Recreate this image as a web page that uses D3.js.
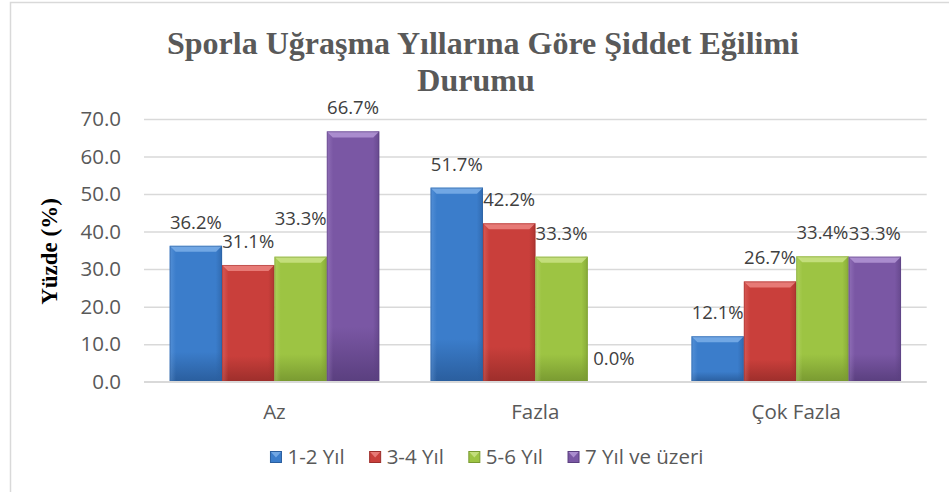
<!DOCTYPE html>
<html>
<head>
<meta charset="utf-8">
<script src="https://cdn.jsdelivr.net/npm/d3@7"></script>
<style>
  body { margin: 0; background: #fff; }
  svg { display: block; }
</style>
</head>
<body>
<svg id="chart" width="949" height="492"></svg>
<script>
// chart values
var categories = ["Az", "Fazla", "Çok Fazla"];
var seriesNames = ["1-2 Yıl", "3-4 Yıl", "5-6 Yıl", "7 Yıl ve üzeri"];
var yil12 = [36.2, 51.7, 12.1];
var yil34 = [31.1, 42.2, 26.7];
var yil56 = [33.3, 33.3, 33.4];
var yil7 = [66.7, 0.0, 33.3];
var yTicks = [0, 10, 20, 30, 40, 50, 60, 70];

var seriesValues = [yil12, yil34, yil56, yil7];

// bar colours: [light, body, dark]
var palette = [
  ["#7fb1ea", "#3b7dcb", "#2a5e9e"],
  ["#ef8a86", "#c93f3b", "#9d2e2b"],
  ["#cde58a", "#9dc443", "#799a31"],
  ["#b79ad8", "#7a57a4", "#5a3f7f"]
];

// the 5-6 Yıl label over "Az" was dragged up in the original
var labelNudge = {"Az|5-6 Yıl": -15};

var margin = {left: 144, right: 22.3, top: 119, bottom: 110.3};
var W = 949, H = 492;
var width = W - margin.left - margin.right,
    height = H - margin.top - margin.bottom;

var svg = d3.select("#chart");

// outer chart border (right/bottom edges fall outside the picture)
svg.append("rect")
  .attr("x", 10.5).attr("y", 2.5)
  .attr("width", 1000).attr("height", 600)
  .style("fill", "none")
  .style("stroke", "#d9d9d9")
  .style("stroke-width", 1.5);

var defs = svg.append("defs");
palette.forEach(function(c, i){
  var g = defs.append("linearGradient").attr("id", "grad" + i)
    .attr("x1", 0).attr("y1", 0).attr("x2", 0).attr("y2", 1);
  g.append("stop").attr("offset", "0%").attr("stop-color", c[1]);
  g.append("stop").attr("offset", "78%").attr("stop-color", c[1]);
  g.append("stop").attr("offset", "100%").attr("stop-color", c[2]);
  var h = defs.append("linearGradient").attr("id", "side" + i)
    .attr("x1", 0).attr("y1", 0).attr("x2", 1).attr("y2", 0);
  h.append("stop").attr("offset", "0%").attr("stop-color", c[0]).attr("stop-opacity", 0.35);
  h.append("stop").attr("offset", "12%").attr("stop-color", c[0]).attr("stop-opacity", 0);
  h.append("stop").attr("offset", "88%").attr("stop-color", c[2]).attr("stop-opacity", 0);
  h.append("stop").attr("offset", "100%").attr("stop-color", c[2]).attr("stop-opacity", 0.6);
});

//Title
var title = svg.append("text")
  .attr("text-anchor", "middle")
  .style("font-family", "'Liberation Serif', 'Times New Roman', serif")
  .style("font-weight", "bold")
  .style("font-size", "32px")
  .style("fill", "#595959");
title.append("tspan").attr("x", 483).attr("y", 54).text("Sporla Uğraşma Yıllarına Göre Şiddet Eğilimi");
title.append("tspan").attr("x", 476).attr("y", 91).text("Durumu");

var g = svg.append("g")
  .attr("transform", "translate(" + margin.left + "," + margin.top + ")");

var x0 = d3.scaleBand().domain(categories).range([0, width]).padding(0);
var x1 = d3.scaleBand().domain(seriesNames).range([0, x0.bandwidth()])
  .paddingInner(0).paddingOuter(0.49);
var y = d3.scaleLinear().domain([0, 70]).range([height, 0]);

//Y axis with gridlines
var yAxis = g.append("g")
  .call(d3.axisLeft(y).tickValues(yTicks).tickFormat(d3.format(".1f"))
    .tickSize(-width).tickPadding(23));
yAxis.select(".domain").remove();
yAxis.selectAll(".tick line")
  .style("stroke", "#d9d9d9")
  .style("stroke-width", 1.5);
yAxis.selectAll(".tick text")
  .style("font-family", "'Open Sans', sans-serif")
  .style("font-size", "20.5px")
  .style("fill", "#595959");

//Bars
var rows = [];
categories.forEach(function(cat, ci){
  seriesNames.forEach(function(s, si){
    rows.push({cat: cat, series: s, si: si, value: seriesValues[si][ci]});
  });
});

var bars = g.selectAll(".bar")
  .data(rows).enter().append("g")
  .attr("class", "bar")
  .attr("transform", function(d){ return "translate(" + (x0(d.cat) + x1(d.series)) + ",0)"; });

var bw = x1.bandwidth();

bars.filter(function(d){ return d.value > 0; }).each(function(d){
  var sel = d3.select(this);
  var top = y(d.value), h = height - top;
  var bev = Math.min(6, h / 2);
  sel.append("rect")
    .attr("x", 0).attr("y", top).attr("width", bw).attr("height", h)
    .style("fill", "url(#grad" + d.si + ")");
  sel.append("rect")
    .attr("x", 0).attr("y", top).attr("width", bw).attr("height", h)
    .style("fill", "url(#side" + d.si + ")");
  // top bevel
  sel.append("path")
    .attr("d", "M0," + top + "L" + bw + "," + top + "L" + (bw - bev) + "," + (top + bev) +
      "L" + bev + "," + (top + bev) + "Z")
    .style("fill", palette[d.si][0])
    .style("opacity", 0.8);
  sel.append("rect")
    .attr("x", 0.5).attr("y", top + 0.5).attr("width", bw - 1).attr("height", h - 1)
    .style("fill", "none")
    .style("stroke", palette[d.si][2])
    .style("stroke-opacity", 0.5)
    .style("stroke-width", 1);
});

//X axis baseline
g.append("line")
  .attr("x1", 0).attr("x2", width)
  .attr("y1", height).attr("y2", height)
  .style("stroke", "#d9d9d9")
  .style("stroke-width", 1.5);

//Data labels
bars.append("text")
  .attr("x", bw / 2)
  .attr("y", function(d){ return y(d.value) - 17 + (labelNudge[d.cat + "|" + d.series] || 0); })
  .attr("text-anchor", "middle")
  .style("font-family", "'Open Sans', sans-serif")
  .style("font-size", "18.5px")
  .style("fill", "#404040")
  .text(function(d){ return d.value.toFixed(1) + "%"; });

//Category labels
g.selectAll(".cat-label")
  .data(categories).enter().append("text")
  .attr("class", "cat-label")
  .attr("x", function(d){ return x0(d) + x0.bandwidth() / 2; })
  .attr("y", height + 37)
  .attr("text-anchor", "middle")
  .style("font-family", "'Open Sans', sans-serif")
  .style("font-size", "20.5px")
  .style("fill", "#595959")
  .text(function(d){ return d; });

//Y axis label
svg.append("text")
  .attr("transform", "translate(57," + 251.5 + ") rotate(-90)")
  .attr("text-anchor", "middle")
  .style("font-family", "'Liberation Serif', 'Times New Roman', serif")
  .style("font-weight", "bold")
  .style("font-size", "23px")
  .style("fill", "#000")
  .text("Yüzde (%)");

//Legend
var legend = svg.append("g");
var lx = 0;
seriesNames.forEach(function(s, i){
  var item = legend.append("g").attr("transform", "translate(" + lx + ",0)");
  item.append("rect")
    .attr("x", 0).attr("y", -5.5).attr("width", 11).attr("height", 11)
    .style("fill", palette[i][1])
    .style("stroke", palette[i][2])
    .style("stroke-width", 1);
  item.append("path")
    .attr("d", "M0.5,-5L10.5,-5L5.5,0.5Z")
    .style("fill", palette[i][0])
    .style("opacity", 0.8);
  var t = item.append("text")
    .attr("x", 17).attr("y", 7)
    .style("font-family", "'Open Sans', sans-serif")
    .style("font-size", "20.5px")
    .style("fill", "#595959")
    .text(s);
  lx += 17 + t.node().getComputedTextLength() + 25;
});
lx -= 25;
legend.attr("transform", "translate(" + (487 - lx / 2) + ",457)");
</script>
</body>
</html>
